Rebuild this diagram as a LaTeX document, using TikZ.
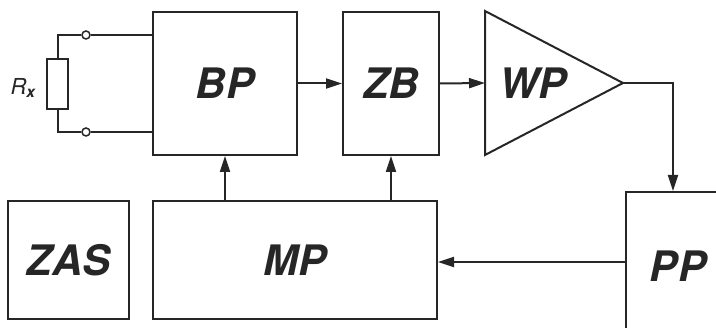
\documentclass[tikz,border=0pt]{standalone}
\usepackage{fontspec}
\newfontfamily\hvfont{TeX Gyre Heros}
\usetikzlibrary{arrows.meta}
\begin{document}
\begin{tikzpicture}[x=1pt,y=-1pt,
  line width=2pt, draw=black!85,
  lbl/.style={font=\hvfont\bfseries\itshape\fontsize{42}{42}\selectfont, text=black!85},
  blk/.style={draw, line width=2pt, inner sep=0pt, lbl},
  tip/.tip={Triangle[length=16pt,width=10pt]},
  conn/.style={line width=2pt, arrows={-tip}},
  wire/.style={line width=2pt},
  term/.style={circle, draw, fill=white, line width=1.5pt, inner sep=0pt, minimum size=8pt}]
\useasboundingbox (0,0) rectangle (716,328);
\clip (0,0) rectangle (716,328);
% blocks
\node[blk, minimum width=144pt, minimum height=143pt] (BP) at (225,83.5) {BP};
\node[blk, minimum width=96pt, minimum height=143pt] (ZB) at (391,83.5) {ZB};
\draw[line width=2pt, line join=miter] (485,11) -- (485,155) -- (623,83) -- cycle;
\coordinate (WPin) at (485,83);
\coordinate (WPout) at (623,83);
\node[lbl] (WP) at (533,83) {WP};
\node[blk, minimum width=121pt, minimum height=118pt] (ZAS) at (68.5,260) {ZAS};
\node[blk, minimum width=284pt, minimum height=118pt] (MP) at (295,260) {MP};
\node[blk, minimum width=104pt, minimum height=148pt] (PP) at (678,266) {PP};
% Rx circuit
\node[term] (t1) at (86,35) {};
\node[term] (t2) at (86,132) {};
\node[draw, line width=2pt, minimum width=21pt, minimum height=50pt, inner sep=0pt] (Rx) at (57.5,84) {};
\node[font=\hvfont\itshape\fontsize{22}{22}\selectfont, text=black!85] (RxL) at (23,88) {R\textsubscript{\bfseries x}};
\draw[wire] (t1) -- (t1 -| BP.west);
\draw[wire] (t2) -- (t2 -| BP.west);
\draw[wire] (t1) -- (Rx.north |- t1) -- (Rx.north);
\draw[wire] (t2) -- (Rx.south |- t2) -- (Rx.south);
% signal path
\draw[conn] (BP.east) -- (ZB.west);
\draw[conn] (ZB.east) -- (WPin);
\coordinate (corner) at (673,83);
\draw[conn] (WPout) -- (corner) -- (corner |- PP.north);
\draw[conn] (PP.west |- 0,262) -- (MP.east |- 0,262);
\draw[conn] (MP.north -| BP.south) -- (BP.south);
\draw[conn] (MP.north -| ZB.south) -- (ZB.south);
\end{tikzpicture}
\end{document}
